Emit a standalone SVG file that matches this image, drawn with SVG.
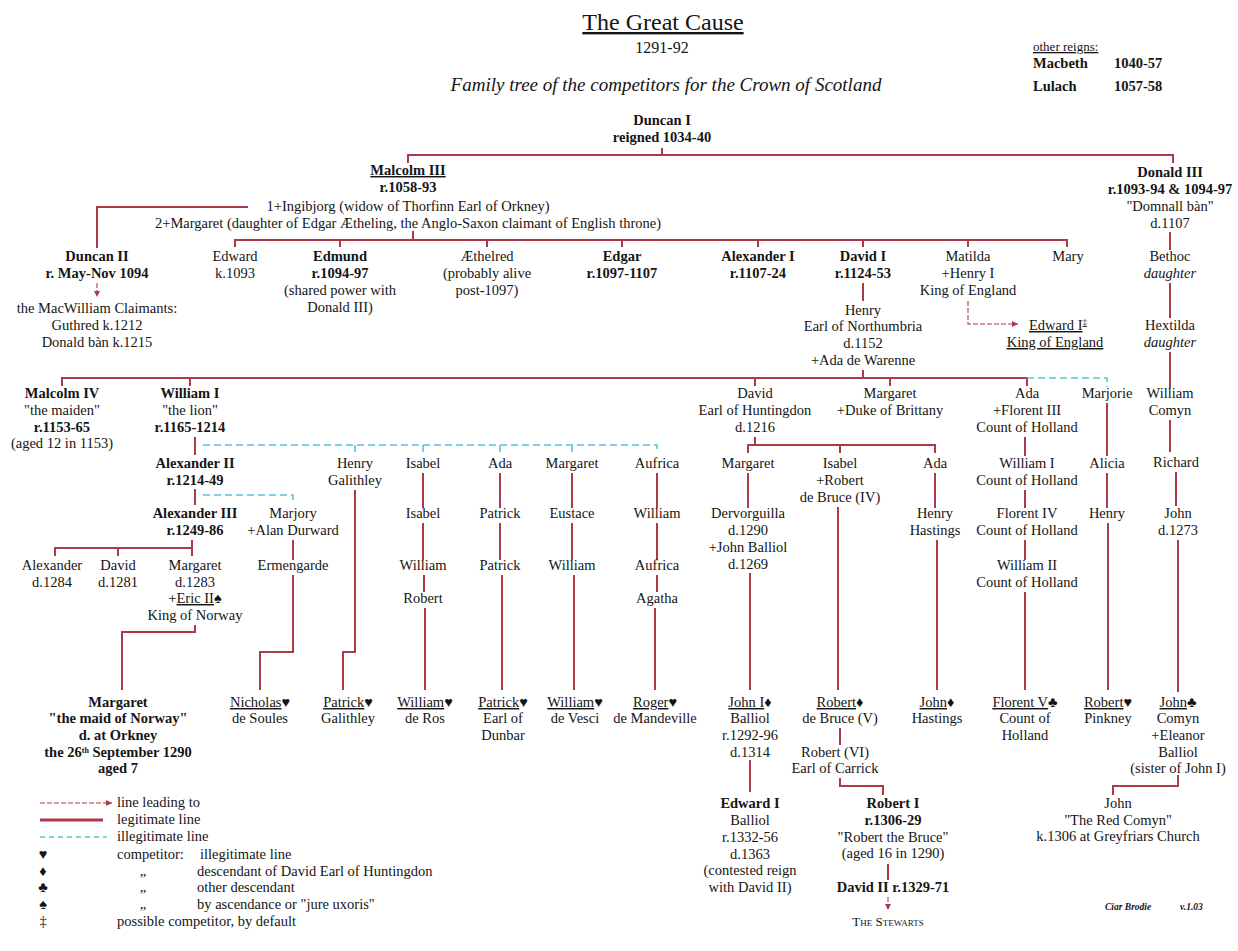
<svg xmlns="http://www.w3.org/2000/svg" width="1238" height="951" viewBox="0 0 1238 951">
<style>
text{font-family:"Liberation Serif","Times New Roman",serif;font-size:14.5px;fill:#151515;text-anchor:middle}
.b{font-weight:bold}
.i{font-style:italic}
.u{text-decoration:underline}
.s{text-anchor:start}
.leg{stroke:#ad3a4b;stroke-width:2;fill:none}
.ill{stroke:#5cc4cf;stroke-width:1.6;stroke-dasharray:7 4;fill:none}
.lead{stroke:#ad3a4b;stroke-width:1.1;stroke-dasharray:5 2;fill:none}
</style>
<defs>
<marker id="arr" markerWidth="7" markerHeight="7" refX="6" refY="3" orient="auto" markerUnits="userSpaceOnUse">
<path d="M0,0 L6,3 L0,6 z" fill="#ad3a4b"/>
</marker>
</defs>
<rect width="1238" height="951" fill="#ffffff"/>

<g id="title">
<text x="663" y="30" class="u" style="font-size:24px">The Great Cause</text>
<text x="662" y="53" style="font-size:16px">1291-92</text>
<text x="666" y="91" class="i" style="font-size:19px">Family tree of the competitors for the Crown of Scotland</text>
</g>
<g id="other-reigns">
<text x="1033" y="51" class="s u" style="font-size:13px">other reigns:</text>
<text x="1033" y="68" class="s b">Macbeth</text>
<text x="1114" y="68" class="s b">1040-57</text>
<text x="1033" y="91" class="s b">Lulach</text>
<text x="1114" y="91" class="s b">1057-58</text>
</g>

<g id="connectors">
<path class="leg" d="M662,148 V155 M408,163 V155 H1173 V163"/>
<path class="leg" d="M248,207 H97 V248"/>
<path class="leg" d="M413,231 V240 M235,247 V240 H1067 V247 M340,240 V247 M487,240 V247 M622,240 V247 M758,240 V247 M863,240 V247 M968,240 V247"/>
<path class="lead" d="M97,283 V297" marker-end="url(#arr)"/>
<path class="leg" d="M1170,232 V250 M1170,283 V318 M1170,352 V388 M1170,420 V452 M1176,472 V506 M1178,540 V692"/>
<path class="leg" d="M863,283 V301 M863,370 V378"/>
<path class="lead" d="M968,301 V324 H1018" marker-end="url(#arr)"/>
<path class="leg" d="M62,386 V378 H1027 V386 M190,378 V386 M755,378 V386 M890,378 V386"/>
<path class="ill" d="M1027,378 H1107 V387"/>
<path class="leg" d="M195,437 V455"/>
<path class="ill" d="M203,445 H657 V453 M355,445 V453 M423,445 V453 M500,445 V453 M572,445 V453"/>
<path class="leg" d="M195,489 V505"/>
<path class="ill" d="M203,495 H293 V504"/>
<path class="leg" d="M192,540 V548 M55,556 V548 H192 V556 M118,548 V556"/>
<path class="leg" d="M195,625 V632 H122 V690"/>
<path class="leg" d="M293,540 V560 M293,575 V652 H260 V690"/>
<path class="leg" d="M355,490 V652 H343 V690"/>
<path class="leg" d="M423,473 V508 M423,523 V560 M424,575 V592 M425,608 V690"/>
<path class="leg" d="M500,473 V508 M500,523 V560 M502,575 V690"/>
<path class="leg" d="M572,473 V508 M572,523 V560 M574,575 V690"/>
<path class="leg" d="M657,473 V508 M657,523 V560 M657,575 V592 M655,608 V690"/>
<path class="leg" d="M755,437 V445 M748,453 V445 H935 V453 M840,445 V453"/>
<path class="leg" d="M748,473 V508 M750,573 V690 M750,760 V792"/>
<path class="leg" d="M838,507 V690 M840,728 V745 M840,778 V786 H883 V795 M888,864 V880"/>
<path class="lead" d="M888,897 V910" marker-end="url(#arr)"/>
<path class="leg" d="M935,473 V508 M937,540 V690"/>
<path class="leg" d="M1025,437 V456 M1025,490 V508 M1025,540 V560 M1025,592 V690"/>
<path class="leg" d="M1107,403 V456 M1107,473 V508 M1108,523 V690"/>
<path class="leg" d="M1178,775 V786 H1113 V795"/>
</g>

<g id="duncan-i"><text x="662" y="125" class="b">Duncan I</text><text x="662" y="142" class="b">reigned 1034-40</text></g>
<g id="malcolm-iii">
<text x="408" y="175" class="b u">Malcolm III</text>
<text x="408" y="192" class="b">r.1058-93</text>
<text x="408" y="211">1+Ingibjorg (widow of Thorfinn Earl of Orkney)</text>
<text x="408" y="228">2+Margaret (daughter of Edgar Ætheling, the Anglo-Saxon claimant of English throne)</text>
</g>
<g id="donald-iii">
<text x="1170" y="177" class="b">Donald III</text>
<text x="1170" y="194" class="b">r.1093-94 &amp; 1094-97</text>
<text x="1170" y="211">"Domnall bàn"</text>
<text x="1170" y="228">d.1107</text>
</g>
<g id="duncan-ii">
<text x="97" y="261" class="b">Duncan II</text>
<text x="97" y="278" class="b">r. May-Nov 1094</text>
<text x="97" y="313">the MacWilliam Claimants:</text>
<text x="97" y="330">Guthred k.1212</text>
<text x="97" y="347">Donald bàn k.1215</text>
</g>
<g id="edward"><text x="235" y="261">Edward</text><text x="235" y="278">k.1093</text></g>
<g id="edmund"><text x="340" y="261" class="b">Edmund</text><text x="340" y="278" class="b">r.1094-97</text><text x="340" y="295">(shared power with</text><text x="340" y="312">Donald III)</text></g>
<g id="aethelred"><text x="487" y="261">Æthelred</text><text x="487" y="278">(probably alive</text><text x="487" y="295">post-1097)</text></g>
<g id="edgar"><text x="622" y="261" class="b">Edgar</text><text x="622" y="278" class="b">r.1097-1107</text></g>
<g id="alexander-i"><text x="758" y="261" class="b">Alexander I</text><text x="758" y="278" class="b">r.1107-24</text></g>
<g id="david-i"><text x="863" y="261" class="b">David I</text><text x="863" y="278" class="b">r.1124-53</text></g>
<g id="matilda"><text x="968" y="261">Matilda</text><text x="968" y="278">+Henry I</text><text x="968" y="295">King of England</text></g>
<g id="mary"><text x="1068" y="261">Mary</text></g>
<g id="bethoc"><text x="1170" y="261">Bethoc</text><text x="1170" y="278" class="i">daughter</text></g>
<g id="hextilda"><text x="1170" y="330">Hextilda</text><text x="1170" y="347" class="i">daughter</text></g>
<g id="edward-i-england"><text x="1058" y="330" class="u">Edward I<tspan baseline-shift="super" style="font-size:9px">‡</tspan></text><text x="1055" y="347" class="u">King of England</text></g>
<g id="henry"><text x="863" y="315">Henry</text><text x="863" y="331">Earl of Northumbria</text><text x="863" y="348">d.1152</text><text x="863" y="365">+Ada de Warenne</text></g>

<g id="malcolm-iv"><text x="62" y="398" class="b">Malcolm IV</text><text x="62" y="415">"the maiden"</text><text x="62" y="432" class="b">r.1153-65</text><text x="62" y="448">(aged 12 in 1153)</text></g>
<g id="william-i"><text x="190" y="398" class="b">William I</text><text x="190" y="415">"the lion"</text><text x="190" y="432" class="b">r.1165-1214</text></g>
<g id="david-huntingdon"><text x="755" y="398">David</text><text x="755" y="415">Earl of Huntingdon</text><text x="755" y="432">d.1216</text></g>
<g id="margaret-brittany"><text x="890" y="398">Margaret</text><text x="890" y="415">+Duke of Brittany</text></g>
<g id="ada-holland"><text x="1027" y="398">Ada</text><text x="1027" y="415">+Florent III</text><text x="1027" y="432">Count of Holland</text></g>
<g id="marjorie"><text x="1107" y="398">Marjorie</text></g>
<g id="william-comyn"><text x="1170" y="398">William</text><text x="1170" y="415">Comyn</text></g>

<g id="alexander-ii"><text x="195" y="468" class="b">Alexander II</text><text x="195" y="485" class="b">r.1214-49</text></g>
<g id="henry-galithley"><text x="355" y="468">Henry</text><text x="355" y="485">Galithley</text></g>
<g id="isabel-1"><text x="423" y="468">Isabel</text></g>
<g id="ada-1"><text x="500" y="468">Ada</text></g>
<g id="margaret-1"><text x="572" y="468">Margaret</text></g>
<g id="aufrica-1"><text x="657" y="468">Aufrica</text></g>
<g id="margaret-h"><text x="748" y="468">Margaret</text></g>
<g id="isabel-h"><text x="840" y="468">Isabel</text><text x="840" y="485">+Robert</text><text x="840" y="502">de Bruce (IV)</text></g>
<g id="ada-h"><text x="935" y="468">Ada</text></g>
<g id="william-i-holland"><text x="1027" y="468">William I</text><text x="1027" y="485">Count of Holland</text></g>
<g id="alicia"><text x="1107" y="468">Alicia</text></g>
<g id="richard"><text x="1176" y="467">Richard</text></g>

<g id="alexander-iii"><text x="195" y="518" class="b">Alexander III</text><text x="195" y="535" class="b">r.1249-86</text></g>
<g id="marjory"><text x="293" y="518">Marjory</text><text x="293" y="535">+Alan Durward</text></g>
<g id="isabel-2"><text x="423" y="518">Isabel</text></g>
<g id="patrick-1"><text x="500" y="518">Patrick</text></g>
<g id="eustace"><text x="572" y="518">Eustace</text></g>
<g id="william-a"><text x="657" y="518">William</text></g>
<g id="dervorguilla"><text x="748" y="518">Dervorguilla</text><text x="748" y="535">d.1290</text><text x="748" y="552">+John Balliol</text><text x="748" y="569">d.1269</text></g>
<g id="henry-hastings"><text x="935" y="518">Henry</text><text x="935" y="535">Hastings</text></g>
<g id="florent-iv"><text x="1027" y="518">Florent IV</text><text x="1027" y="535">Count of Holland</text></g>
<g id="henry-m"><text x="1107" y="518">Henry</text></g>
<g id="john-comyn-1273"><text x="1178" y="518">John</text><text x="1178" y="535">d.1273</text></g>

<g id="alexander-d1284"><text x="52" y="570">Alexander</text><text x="52" y="587">d.1284</text></g>
<g id="david-d1281"><text x="118" y="570">David</text><text x="118" y="587">d.1281</text></g>
<g id="margaret-norway"><text x="195" y="570">Margaret</text><text x="195" y="587">d.1283</text><text x="195" y="603">+<tspan class="u">Eric II</tspan>♠</text><text x="195" y="620">King of Norway</text></g>
<g id="ermengarde"><text x="293" y="570">Ermengarde</text></g>
<g id="william-2"><text x="423" y="570">William</text></g>
<g id="patrick-2"><text x="500" y="570">Patrick</text></g>
<g id="william-3"><text x="572" y="570">William</text></g>
<g id="aufrica-2"><text x="657" y="570">Aufrica</text></g>
<g id="william-ii-holland"><text x="1027" y="570">William II</text><text x="1027" y="587">Count of Holland</text></g>
<g id="robert-1"><text x="423" y="603">Robert</text></g>
<g id="agatha"><text x="657" y="603">Agatha</text></g>

<g id="maid-of-norway">
<text x="118" y="707" class="b">Margaret</text>
<text x="118" y="723" class="b">"the maid of Norway"</text>
<text x="118" y="740" class="b">d. at Orkney</text>
<text x="118" y="757" class="b">the 26<tspan baseline-shift="super" style="font-size:8px">th</tspan> September 1290</text>
<text x="118" y="773" class="b">aged 7</text>
</g>
<g id="nicholas"><text x="260" y="707"><tspan class="u">Nicholas</tspan>♥</text><text x="260" y="723">de Soules</text></g>
<g id="patrick-galithley"><text x="348" y="707"><tspan class="u">Patrick</tspan>♥</text><text x="348" y="723">Galithley</text></g>
<g id="william-de-ros"><text x="425" y="707"><tspan class="u">William</tspan>♥</text><text x="425" y="723">de Ros</text></g>
<g id="patrick-dunbar"><text x="503" y="707"><tspan class="u">Patrick</tspan>♥</text><text x="503" y="723">Earl of</text><text x="503" y="740">Dunbar</text></g>
<g id="william-de-vesci"><text x="575" y="707"><tspan class="u">William</tspan>♥</text><text x="575" y="723">de Vesci</text></g>
<g id="roger"><text x="655" y="707"><tspan class="u">Roger</tspan>♥</text><text x="655" y="723">de Mandeville</text></g>
<g id="john-balliol"><text x="750" y="707"><tspan class="u">John I</tspan>♦</text><text x="750" y="723">Balliol</text><text x="750" y="740">r.1292-96</text><text x="750" y="757">d.1314</text></g>
<g id="robert-bruce-v"><text x="840" y="707"><tspan class="u">Robert</tspan>♦</text><text x="840" y="723">de Bruce (V)</text></g>
<g id="john-hastings"><text x="937" y="707"><tspan class="u">John</tspan>♦</text><text x="937" y="723">Hastings</text></g>
<g id="florent-v"><text x="1025" y="707"><tspan class="u">Florent V</tspan>♣</text><text x="1025" y="723">Count of</text><text x="1025" y="740">Holland</text></g>
<g id="robert-pinkney"><text x="1108" y="707"><tspan class="u">Robert</tspan>♥</text><text x="1108" y="723">Pinkney</text></g>
<g id="john-comyn"><text x="1178" y="707"><tspan class="u">John</tspan>♣</text><text x="1178" y="723">Comyn</text><text x="1178" y="740">+Eleanor</text><text x="1178" y="757">Balliol</text><text x="1178" y="773">(sister of John I)</text></g>

<g id="robert-vi"><text x="835" y="757">Robert (VI)</text><text x="835" y="773">Earl of Carrick</text></g>
<g id="edward-balliol"><text x="750" y="808" class="b">Edward I</text><text x="750" y="825">Balliol</text><text x="750" y="842">r.1332-56</text><text x="750" y="859">d.1363</text><text x="750" y="875">(contested reign</text><text x="750" y="892">with David II)</text></g>
<g id="robert-i"><text x="893" y="808" class="b">Robert I</text><text x="893" y="825" class="b">r.1306-29</text><text x="893" y="842">"Robert the Bruce"</text><text x="893" y="858">(aged 16 in 1290)</text></g>
<g id="david-ii"><text x="893" y="892" class="b">David II r.1329-71</text></g>
<g id="stewarts"><text x="888" y="926" style="font-variant:small-caps;font-size:13px">The Stewarts</text></g>
<g id="red-comyn"><text x="1118" y="808">John</text><text x="1118" y="825">"The Red Comyn"</text><text x="1118" y="841">k.1306 at Greyfriars Church</text></g>

<g id="credit"><text x="1105" y="910" class="s i b" style="font-size:9.5px">Ciar Brodie</text><text x="1180" y="910" class="s i b" style="font-size:9.5px">v.1.03</text></g>

<g id="legend">
<path class="lead" d="M40,803 H112" marker-end="url(#arr)"/>
<path class="leg" d="M40,820 H103" style="stroke-width:3"/>
<path class="ill" d="M40,837 H107" style="stroke-dasharray:5 4"/>
<text x="117" y="807" class="s">line leading to</text>
<text x="117" y="824" class="s">legitimate line</text>
<text x="117" y="841" class="s">illegitimate line</text>
<text x="43" y="859">♥</text><text x="117" y="859" class="s">competitor:</text><text x="200" y="859" class="s">illegitimate line</text>
<text x="43" y="876">♦</text><text x="143" y="876">„</text><text x="197" y="876" class="s">descendant of David Earl of Huntingdon</text>
<text x="43" y="892">♣</text><text x="143" y="892">„</text><text x="197" y="892" class="s">other descendant</text>
<text x="43" y="909">♠</text><text x="143" y="909">„</text><text x="197" y="909" class="s">by ascendance or "jure uxoris"</text>
<text x="43" y="926">‡</text><text x="117" y="926" class="s">possible competitor,  by default</text>
</g>
</svg>
